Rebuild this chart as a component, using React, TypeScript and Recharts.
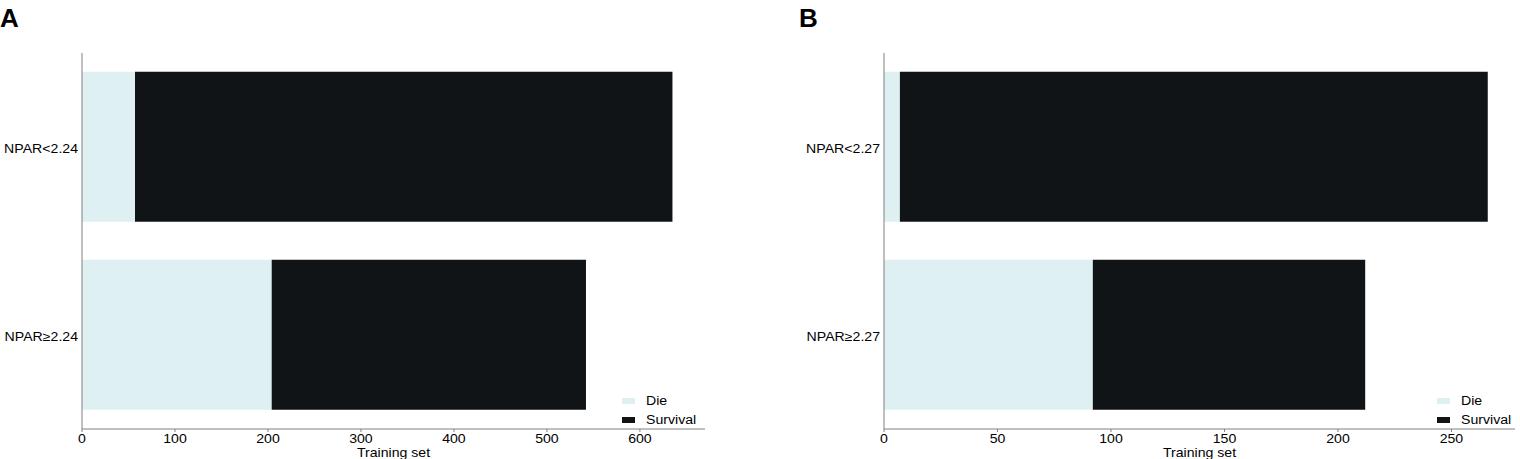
import React from 'react';
import { BarChart, Bar, XAxis, YAxis } from 'recharts';

// ---- Data ----
const categoriesA = ['NPAR<2.24', 'NPAR≥2.24'];
const dieA = [57, 204];
const survivalA = [578, 338];
const ticksA = [0, 100, 200, 300, 400, 500, 600];

const categoriesB = ['NPAR<2.27', 'NPAR≥2.27'];
const dieB = [7, 92];
const survivalB = [259, 120];
const ticksB = [0, 50, 100, 150, 200, 250];

const seriesNames = ['Die', 'Survival'];
const seriesColors = ['#dff0f3', '#111417'];
const xLabel = 'Training set';
const panelLetters = ['A', 'B'];

// ---- Styles ----
const FONT = '"Liberation Sans", Arial, Helvetica, sans-serif';
const FS = 12.5;
const SX = 1.13;
const AXIS = '#808080';

const YTick = (props: any) => {
  const { x, y, payload } = props;
  return (
    <g transform={`translate(${x},${y})`}>
      <text transform={`scale(${SX},1)`} textAnchor="end" dy="0.45em" fontSize={FS} fontFamily={FONT} fill="#000">
        {payload.value}
      </text>
    </g>
  );
};

const XTick = (props: any) => {
  const { x, y, payload } = props;
  return (
    <g transform={`translate(${x},${y})`}>
      <text transform={`scale(${SX},1)`} textAnchor="middle" dy="0.71em" fontSize={FS} fontFamily={FONT} fill="#000">
        {payload.value}
      </text>
    </g>
  );
};

const XLabel = (props: any) => {
  const vb = props.viewBox || {};
  const cx = (vb.x ?? 0) + (vb.width ?? 0) / 2;
  const by = (vb.y ?? 0) + 28;
  return (
    <g transform={`translate(${cx},${by})`}>
      <text transform={`scale(${SX},1)`} textAnchor="middle" fontSize={FS} fontFamily={FONT} fill="#000">
        {xLabel}
      </text>
    </g>
  );
};

type PanelProps = {
  left: number;
  width: number;
  marginRight: number;
  categories: string[];
  die: number[];
  survival: number[];
  ticks: number[];
  domainMax: number;
  letter: string;
  letterLeft: number;
  legendLeft: number;
};

function Panel(p: PanelProps) {
  const data = p.categories.map((name, i) => ({ name, die: p.die[i], survival: p.survival[i] }));
  return (
    <>
      <div style={{ position: 'absolute', left: p.left, top: 0, width: p.width, height: 459 }}>
        <BarChart
          width={p.width}
          height={459}
          data={data}
          layout="vertical"
          barCategoryGap="10%"
          margin={{ top: 53, right: p.marginRight, bottom: 0, left: 0 }}
        >
          <XAxis
            type="number"
            domain={[0, p.domainMax]}
            ticks={p.ticks}
            allowDataOverflow
            height={30}
            tickSize={3}
            tickMargin={2}
            axisLine={{ stroke: AXIS }}
            tickLine={{ stroke: AXIS }}
            tick={<XTick />}
            label={{ content: (lp: any) => <XLabel {...lp} /> }}
          />
          <YAxis
            type="category"
            dataKey="name"
            width={82}
            tickSize={0}
            tickMargin={4}
            tickLine={false}
            axisLine={{ stroke: AXIS }}
            tick={<YTick />}
          />
          <Bar dataKey="die" name={seriesNames[0]} stackId="s" fill={seriesColors[0]} isAnimationActive={false} />
          <Bar dataKey="survival" name={seriesNames[1]} stackId="s" fill={seriesColors[1]} isAnimationActive={false} />
        </BarChart>
      </div>
      <div
        style={{
          position: 'absolute',
          left: p.letterLeft,
          top: 5,
          fontSize: 26,
          lineHeight: 1,
          fontWeight: 'bold',
          fontFamily: FONT,
          color: '#000',
        }}
      >
        {p.letter}
      </div>
      <div style={{ position: 'absolute', left: p.legendLeft, top: 394, fontFamily: FONT }}>
        {seriesNames.map((n, i) => (
          <div key={n} style={{ display: 'flex', alignItems: 'center', height: 14, marginBottom: i === 0 ? 5 : 0 }}>
            <div style={{ width: 13, height: 6, background: seriesColors[i] }} />
            <span
              style={{
                marginLeft: 11,
                display: 'inline-block',
                fontSize: FS,
                lineHeight: '14px',
                transform: `scaleX(${SX})`,
                transformOrigin: 'left center',
                color: '#000',
              }}
            >
              {n}
            </span>
          </div>
        ))}
      </div>
    </>
  );
}

export default function App() {
  return (
    <div style={{ position: 'absolute', left: 0, top: 0, width: 1520, height: 459, background: '#fff', overflow: 'hidden' }}>
      <Panel
        left={0}
        width={720}
        marginRight={15}
        categories={categoriesA}
        die={dieA}
        survival={survivalA}
        ticks={ticksA}
        domainMax={670}
        letter={panelLetters[0]}
        letterLeft={0}
        legendLeft={622}
      />
      <Panel
        left={802}
        width={718}
        marginRight={5}
        categories={categoriesB}
        die={dieB}
        survival={survivalB}
        ticks={ticksB}
        domainMax={278}
        letter={panelLetters[1]}
        letterLeft={799}
        legendLeft={1437}
      />
    </div>
  );
}
